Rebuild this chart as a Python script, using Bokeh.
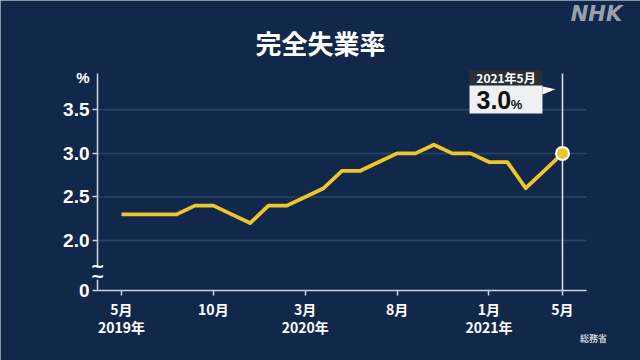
from bokeh.plotting import figure
from bokeh.models import Range1d, FixedTicker, Label
from bokeh.embed import file_html
from bokeh.resources import INLINE

# ---- data ----
month_idx = list(range(25))  # May 2019 .. May 2021
rate = [2.3, 2.3, 2.3, 2.3, 2.4, 2.4, 2.3, 2.2, 2.4, 2.4, 2.5, 2.6,
        2.8, 2.8, 2.9, 3.0, 3.0, 3.1, 3.0, 3.0, 2.9, 2.9, 2.6, 2.8, 3.0]
x_ticks = [0, 5, 10, 15, 20, 24]
x_tick_labels = ["5月\n2019年", "10月", "3月\n2020年", "8月", "1月\n2021年", "5月"]
y_ticks = [2.0, 2.5, 3.0, 3.5]
callout_period = "2021年5月"
callout_value = "3.0"
title_text = "完全失業率"
source_text = "総務省"

# ---- style ----
BG = "#12284a"
GRID = "#2a4468"
AXIS = "#c9d2de"
YELLOW = "#eec52a"
FONT = "Noto Sans CJK JP"
NUMFONT = "Liberation Sans"

Y0 = 1.426          # position standing for 0 (broken axis)
Y_TOP = 3.917
X_LEFT, X_RIGHT = -1.306, 25.306

p = figure(width=640, height=360, output_backend="svg", toolbar_location=None,
           x_range=Range1d(-6.585, 28.245), y_range=Range1d(0.6223, 4.755),
           min_border_left=0, min_border_right=0, min_border_top=0, min_border_bottom=0)
p.background_fill_color = BG
p.border_fill_color = BG
p.outline_line_color = None
p.grid.visible = False

# gridlines
p.segment(x0=[X_LEFT] * len(y_ticks), y0=y_ticks, x1=[X_RIGHT] * len(y_ticks), y1=y_ticks,
          line_color=GRID, line_width=1.5)

# vertical marker line at last month
last_x, last_y = month_idx[-1], rate[-1]
p.segment(x0=[last_x], y0=[Y0], x1=[last_x], y1=[Y_TOP], line_color="#dfe5ee", line_width=1.5)

p.line(month_idx, rate, line_color=YELLOW, line_width=3.8, line_join="round")
p.scatter([last_x], [last_y], size=13, fill_color=YELLOW, line_color="white", line_width=2)

# axes (drawn at fixed positions inside the canvas)
xa = p.xaxis[0]
xa.fixed_location = Y0
xa.ticker = FixedTicker(ticks=x_ticks)
xa.major_label_overrides = {t: lab for t, lab in zip(x_ticks, x_tick_labels)}
xa.bounds = (X_LEFT, X_RIGHT)
ya = p.yaxis[0]
ya.fixed_location = X_LEFT
ya.ticker = FixedTicker(ticks=[Y0] + y_ticks)
ov = {t: f"{t:.1f}" for t in y_ticks}
ov[Y0] = "0"
ya.major_label_overrides = ov
ya.bounds = (Y0, Y_TOP)
for ax in (xa, ya):
    ax.axis_line_color = AXIS
    ax.axis_line_width = 1.5
    ax.major_tick_line_color = AXIS
    ax.major_tick_line_width = 1.5
    ax.major_tick_out = 5
    ax.major_tick_in = 0
    ax.minor_tick_line_color = None
    ax.major_label_text_color = "white"
    ax.major_label_text_font_style = "bold"
xa.major_label_text_font = FONT
xa.major_label_text_font_size = "14px"
xa.major_label_text_line_height = 0.9
xa.major_label_standoff = 4
ya.major_label_text_font = NUMFONT
ya.major_label_text_font_size = "19px"
ya.major_label_standoff = 3

def lab(x, y, text, size, color="white", align="center", baseline="middle", style="bold",
        font=FONT, level="annotation"):
    p.add_layout(Label(x=x, y=y, text=text, text_font=font, text_font_size=size,
                       text_font_style=style, text_color=color, text_align=align,
                       text_baseline=baseline, level=level))

# title, logo, source
lab(10.83, 4.273, title_text, "26px")
lab(25.85, 4.595, "NHK", "21px", color="#97a1ae", style="bold italic", font="DejaVu Sans")
lab(25.69, 0.875, source_text, "9px", color="#c0c6d0")
lab(-1.741, 3.871, "%", "15px", font=NUMFONT, align="right")

# axis break marker
gap = p.quad(left=[X_LEFT - 0.15], right=[X_LEFT + 0.15], bottom=[1.55], top=[1.69],
             fill_color=BG, line_color=None)
gap.level = "annotation"
lab(X_LEFT, 1.71, "~", "17px", font="DejaVu Sans", level="overlay")
lab(X_LEFT, 1.595, "~", "17px", font="DejaVu Sans", level="overlay")

# callout
bx0, bx1 = last_x - 5.06, last_x - 1.09
p.quad(left=[bx0], right=[bx1], bottom=[3.780], top=[3.952], fill_color="#2b2f36", line_color=None)
p.quad(left=[bx0], right=[bx1], bottom=[3.458], top=[3.780], fill_color="#eef0f3", line_color=None)
p.patch(x=[bx1, bx1, bx1 + 0.71], y=[3.768, 3.676, 3.735], fill_color="white", line_color=None)
lab((bx0 + bx1) / 2, 3.866, callout_period, "12px")
lab(bx0 + 0.38, 3.608, callout_value, "25px", color="#111111", align="left", font=NUMFONT)
lab(bx0 + 2.25, 3.565, "%", "13px", color="#111111", align="left", font=NUMFONT)

html = file_html(p, INLINE)
html = html.replace("<body>", '<body style="background-color:%s">' % BG, 1)
open("out.html", "w").write(html)
